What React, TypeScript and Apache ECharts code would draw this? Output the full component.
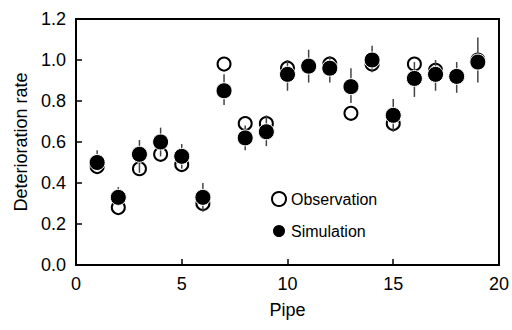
import React, { useEffect, useRef } from "react";
import * as echarts from "echarts";

const pipes = [1, 2, 3, 4, 5, 6, 7, 8, 9, 10, 11, 12, 13, 14, 15, 16, 17, 18, 19];
const observation = [0.48, 0.28, 0.47, 0.54, 0.49, 0.30, 0.98, 0.69, 0.69, 0.96, 0.97, 0.98, 0.74, 0.98, 0.69, 0.98, 0.95, 0.92, 1.00];
const simulation = [0.50, 0.33, 0.54, 0.60, 0.53, 0.33, 0.85, 0.62, 0.65, 0.93, 0.97, 0.96, 0.87, 1.00, 0.73, 0.91, 0.93, 0.92, 0.99];
const errLow = [0.46, 0.29, 0.45, 0.53, 0.47, 0.26, 0.78, 0.56, 0.58, 0.85, 0.89, 0.89, 0.79, 0.94, 0.65, 0.82, 0.85, 0.84, 0.89];
const errHigh = [0.56, 0.38, 0.61, 0.67, 0.59, 0.40, 0.93, 0.68, 0.73, 1.00, 1.05, 1.02, 0.96, 1.07, 0.81, 0.99, 1.00, 0.99, 1.11];

const FONT = "'Liberation Sans', Arial, sans-serif";

export default function App() {
  const ref = useRef<HTMLDivElement>(null);
  useEffect(() => {
    if (!ref.current) return;
    const chart = echarts.init(ref.current, null, { renderer: "svg" });
    chart.setOption({
      animation: false,
      backgroundColor: "#fff",
      textStyle: { fontFamily: FONT, color: "#000" },
      grid: {
        left: 76, right: 12, top: 19, bottom: 65,
        show: true, borderColor: "#000", borderWidth: 2, backgroundColor: "transparent",
      },
      legend: {
        data: ["Observation", "Simulation"],
        orient: "vertical",
        left: 271, top: 191,
        padding: 0,
        itemWidth: 14, itemHeight: 14, itemGap: 16,
        icon: "circle",
        textStyle: { fontFamily: FONT, fontSize: 16, color: "#000" },
        selectedMode: false,
      },
      xAxis: {
        type: "value", min: 0, max: 20, interval: 5,
        name: "Pipe", nameLocation: "middle", nameGap: 36,
        nameTextStyle: { fontFamily: FONT, fontSize: 18, color: "#000" },
        axisLine: { show: true, lineStyle: { color: "#000", width: 2 } },
        axisTick: { show: true, inside: true, length: 6, lineStyle: { color: "#000", width: 1.5 } },
        axisLabel: { fontFamily: FONT, fontSize: 18, color: "#000", margin: 10 },
        splitLine: { show: false },
      },
      yAxis: {
        type: "value", min: 0, max: 1.2, interval: 0.2,
        name: "Deterioration rate", nameLocation: "middle", nameGap: 45,
        nameTextStyle: { fontFamily: FONT, fontSize: 18, color: "#000" },
        axisLine: { show: true, lineStyle: { color: "#000", width: 2 } },
        axisTick: { show: true, inside: true, length: 6, lineStyle: { color: "#000", width: 1.5 } },
        axisLabel: { fontFamily: FONT, fontSize: 18, color: "#000", margin: 10, formatter: (v: number) => v.toFixed(1) },
        splitLine: { show: false },
      },
      series: [
        {
          name: "Observation",
          type: "scatter",
          z: 2,
          symbol: "circle",
          symbolSize: 13,
          itemStyle: { color: "#fff", borderColor: "#000", borderWidth: 2, opacity: 1 },
          data: pipes.map((p, i) => [p, observation[i]]),
        },
        {
          name: "Error",
          type: "custom",
          z: 3,
          data: pipes.map((p, i) => [p, errLow[i], errHigh[i]]),
          renderItem: (params: any, api: any) => {
            const lo = api.coord([api.value(0), api.value(1)]);
            const hi = api.coord([api.value(0), api.value(2)]);
            return {
              type: "line",
              shape: { x1: lo[0], y1: lo[1], x2: hi[0], y2: hi[1] },
              style: { stroke: "#444", lineWidth: 1.5 },
            };
          },
        },
        {
          name: "Simulation",
          type: "scatter",
          z: 4,
          symbol: "circle",
          symbolSize: 16,
          itemStyle: { color: "#000", borderColor: "#fff", borderWidth: 1, opacity: 1 },
          data: pipes.map((p, i) => [p, simulation[i]]),
        },
      ],
    });
    return () => chart.dispose();
  }, []);
  return (
    <div
      ref={ref}
      style={{ position: "fixed", left: 0, top: 0, width: 512, height: 330, background: "#fff" }}
    />
  );
}
